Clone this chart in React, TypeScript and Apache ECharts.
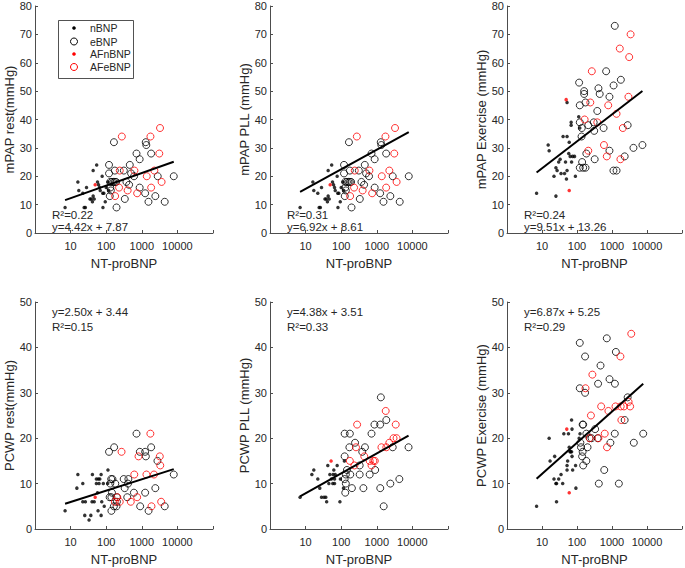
import React, { useEffect, useRef } from 'react';
import * as echarts from 'echarts';

// ---------- text / labels ----------
const yAxisNames = ['mPAP rest(mmHg)', 'mPAP PLL (mmHg)', 'mPAP Exercise (mmHg)', 'PCWP rest(mmHg)', 'PCWP PLL (mmHg)', 'PCWP Exercise (mmHg)'];
const xAxisName = 'NT-proBNP';
const xTickLabels = ['10', '100', '1000', '10000'];
const legendNames = ['nBNP', 'eBNP', 'AFnBNP', 'AFeBNP'];

// ---------- regression coefficients (from the figure) ----------
const slopes = [4.42, 6.92, 9.51, 2.50, 4.38, 6.87];
const intercepts = [7.87, 8.61, 13.26, 3.44, 3.51, 5.25];
const rSquared = [0.22, 0.31, 0.24, 0.15, 0.33, 0.29];

// ---------- mPAP rest ----------
const mpapRestN = [[7,9],[16,18],[17,15],[22,14],[24,9],[26,9],[28,16],[35,12],[38,12],[41,11],[43,13],[43,22],[46,12],[54,24],[57,18],[61,17],[65,16],[68,15],[77,20],[80,14],[81,9],[86,14],[94,11],[100,16],[112,18],[118,15]];
const mpapRestE = [[120,24],[120,21],[165,32],[175,22],[130,18],[145,18],[160,18],[175,18],[190,18],[130,16],[135,15],[126,13],[195,9],[313,22],[333,12],[370,18],[440,17],[460,24],[500,21],[605,20],[710,28],[870,26],[870,16],[1240,14],[1290,32],[1340,31],[1540,11],[1830,28],[2400,13],[2800,20],[4400,11],[7900,20]];
const mpapRestAFn = [[49,17]];
const mpapRestAFe = [[275,34],[1750,34],[3250,37],[3100,28],[240,22],[620,22],[2250,22],[1380,20],[3600,18],[230,16],[400,15],[1830,16],[740,14],[178,13]];

// ---------- mPAP PLL ----------
const mpapPllN = [[7,9],[16,18],[17,15],[22,14],[24,9],[26,9],[28,16],[35,12],[38,12],[41,11],[43,13],[43,22],[46,12],[54,24],[57,18],[61,17],[65,16],[68,15],[77,20],[80,14],[81,9],[86,14],[94,11],[100,16],[112,18],[118,15]];
const mpapPllE = [[120,24],[120,21],[165,32],[175,22],[130,18],[145,18],[160,18],[175,18],[190,18],[130,16],[135,15],[126,13],[195,9],[313,22],[333,12],[370,18],[440,17],[460,24],[500,21],[605,20],[710,28],[870,26],[870,16],[1240,14],[1290,32],[1340,31],[1540,11],[1830,28],[2400,13],[2800,20],[4400,11],[7900,20]];
const mpapPllAFn = [[49,17]];
const mpapPllAFe = [[275,34],[1750,34],[3250,37],[3100,28],[240,22],[620,22],[2250,22],[1380,20],[3600,18],[230,16],[400,15],[1830,16],[740,14],[178,13]];

// ---------- mPAP Exercise ----------
const mpapExN = [[7,14],[15,31],[16,29],[22,20],[25,13],[25,23],[27,22],[30,25],[33,26],[35,21],[40,34],[52,34],[44,21],[47,25],[52,46],[50,19],[52,22],[58,28],[60,32],[64,27],[68,39],[68,38],[70,25],[75,27],[85,27],[90,20],[112,41],[120,37]];
const mpapExE = [[1200,73],[680,57],[115,53],[160,50],[160,49],[410,51],[445,49],[1110,52],[1790,54],[845,48],[120,45],[175,46],[380,43],[120,39],[137,37],[210,38],[300,39],[310,36],[575,37],[135,34],[2800,38],[185,28],[320,26],[845,29],[2300,27],[4100,30],[7400,31],[120,23],[150,23],[175,23],[140,25],[1100,22],[1350,22]];
const mpapExAFn = [[49,47],[60,15]];
const mpapExAFe = [[3400,70],[1670,65],[3100,62],[265,57],[240,46],[780,45],[165,40],[380,39],[1350,42],[2950,48],[2040,37],[210,29],[590,31],[710,27],[1740,26]];

// ---------- PCWP rest ----------
const pcwpRestN = [[7,4],[16,12],[15,9],[22,10],[22,6],[26,6],[25,3],[33,2],[37,3],[40,6],[46,6],[41,12],[53,11],[60,11],[66,11],[53,10],[63,10],[57,8],[59,4],[72,12],[72,3],[83,10],[75,6],[88,5],[112,13],[110,10]];
const pcwpRestE = [[710,21],[120,17],[167,18],[880,17],[1240,17],[1300,16],[1830,18],[2750,15],[7900,12],[138,11],[150,11],[310,11],[420,11],[410,10],[130,10],[180,10],[330,9],[600,8],[1240,8],[2400,9],[125,7],[140,7],[200,7],[390,7],[164,5],[195,5],[140,4],[900,5],[1550,4],[4400,5],[200,6],[145,8]];
const pcwpRestAFn = [[49,7]];
const pcwpRestAFe = [[1740,21],[270,17],[810,16],[3200,16],[3300,14],[615,12],[1350,12],[2200,12],[740,7],[175,6],[240,6],[490,6],[205,7],[1870,5],[3500,6]];

// ---------- PCWP PLL ----------
const pcwpPllN = [[7,7],[17,13],[15,12],[22,11],[25,9],[28,7],[33,7],[37,7],[39,6],[42,14],[48,12],[59,12],[68,12],[53,11],[65,11],[45,10],[58,10],[65,10],[77,14],[62,13],[92,6],[95,11],[123,15],[116,9]];
const pcwpPllE = [[1300,29],[1850,24],[860,23],[1240,23],[125,21],[175,21],[710,21],[245,19],[170,18],[465,18],[390,17],[2800,18],[7800,18],[125,16],[145,13],[135,12],[180,12],[330,12],[630,12],[330,14],[900,13],[125,11],[135,10],[200,9],[420,9],[1250,9],[2400,10],[4300,11],[130,8],[1560,5]];
const pcwpPllAFn = [[52,15]];
const pcwpPllAFe = [[1780,26],[280,23],[3400,23],[260,18],[1350,18],[1850,18],[2250,19],[2950,20],[3600,20],[175,15],[445,16],[630,15],[800,15],[880,15],[710,14],[235,14]];

// ---------- PCWP Exercise ----------
const pcwpExN = [[7,5],[16,20],[17,15],[22,11],[25,10],[26,10],[26,6],[23,16],[30,11],[35,12],[39,10],[42,21],[57,21],[72,22],[52,14],[52,13],[54,15],[63,17],[66,17],[60,18],[70,24],[70,17],[72,16],[75,13],[91,14],[93,9],[115,20],[122,21]];
const pcwpExE = [[120,41],[710,42],[170,38],[1290,39],[470,36],[850,33],[1210,32],[400,32],[120,31],[170,30],[2800,29],[145,23],[150,23],[2300,24],[185,21],[330,22],[230,20],[260,20],[390,20],[1200,21],[7800,21],[4200,19],[900,19],[125,19],[130,18],[200,18],[140,16],[145,17],[150,14],[185,15],[600,13],[420,10],[1570,10]];
const pcwpExAFn = [[60,8],[51,22]];
const pcwpExAFe = [[3550,43],[1740,38],[275,34],[175,31],[490,27],[790,26],[1260,27],[1770,27],[2200,27],[2980,28],[3300,27],[1850,24],[250,25],[620,21],[410,20],[230,20],[720,18]];

const panelsN = [mpapRestN, mpapPllN, mpapExN, pcwpRestN, pcwpPllN, pcwpExN];
const panelsE = [mpapRestE, mpapPllE, mpapExE, pcwpRestE, pcwpPllE, pcwpExE];
const panelsAFn = [mpapRestAFn, mpapPllAFn, mpapExAFn, pcwpRestAFn, pcwpPllAFn, pcwpExAFn];
const panelsAFe = [mpapRestAFe, mpapPllAFe, mpapExAFe, pcwpRestAFe, pcwpPllAFe, pcwpExAFe];
const yMaxes = [80, 80, 80, 50, 50, 50];

const FONT = '"Liberation Sans", Arial, Helvetica, sans-serif';
const TXT = '#262626';
const AX = '#4d4d4d';

export default function App() {
  const ref = useRef<HTMLDivElement>(null);
  useEffect(() => {
    if (!ref.current) return;
    const chart = echarts.init(ref.current, undefined, { renderer: 'svg' });
    const lefts = [35, 270, 507];
    const tops = [6, 302];
    const W = 178;
    const H = 227;

    const grids: any[] = [];
    const xAxes: any[] = [];
    const yAxes: any[] = [];
    const series: any[] = [];
    const graphics: any[] = [];

    for (let i = 0; i < 6; i++) {
      const col = i % 3;
      const row = Math.floor(i / 3);
      const left = lefts[col];
      const top = tops[row];
      grids.push({ left, top, width: W, height: H });
      xAxes.push({
        type: 'log', logBase: 10, min: 1, max: 100000, gridIndex: i,
        name: xAxisName, nameLocation: 'middle', nameGap: 24,
        nameTextStyle: { fontSize: 13, color: TXT, fontFamily: FONT },
        axisLine: { show: true, lineStyle: { color: AX, width: 1 } },
        axisTick: { show: true, inside: true, length: 3, lineStyle: { color: AX } },
        axisLabel: {
          fontSize: 11, color: TXT, fontFamily: FONT, margin: 7,
          formatter: (v: number) => { const s = String(Math.round(v)); return xTickLabels.includes(s) ? s : ''; },
        },
        splitLine: { show: false },
      });
      yAxes.push({
        type: 'value', min: 0, max: yMaxes[i], interval: 10, gridIndex: i,
        name: yAxisNames[i], nameLocation: 'middle', nameGap: 19,
        nameTextStyle: { fontSize: 13, color: TXT, fontFamily: FONT },
        axisLine: { show: true, lineStyle: { color: AX, width: 1 } },
        axisTick: { show: true, inside: true, length: 3, lineStyle: { color: AX } },
        axisLabel: { fontSize: 11, color: TXT, fontFamily: FONT, margin: 3 },
        splitLine: { show: false },
      });
      const common = { xAxisIndex: i, yAxisIndex: i, silent: true, symbol: 'circle' };
      series.push({ ...common, type: 'scatter', name: legendNames[0], data: panelsN[i], symbolSize: 3.5, itemStyle: { color: '#000' } });
      series.push({ ...common, type: 'scatter', name: legendNames[1], data: panelsE[i], symbolSize: 7, itemStyle: { color: 'rgba(0,0,0,0)', borderColor: '#000', borderWidth: 1 } });
      series.push({ ...common, type: 'scatter', name: legendNames[2], data: panelsAFn[i], symbolSize: 3.5, itemStyle: { color: '#ff0000' } });
      series.push({ ...common, type: 'scatter', name: legendNames[3], data: panelsAFe[i], symbolSize: 7, itemStyle: { color: 'rgba(0,0,0,0)', borderColor: '#ff0000', borderWidth: 1 } });

      const allX = [...panelsN[i], ...panelsE[i], ...panelsAFn[i], ...panelsAFe[i]].map((p) => p[0]);
      const xMin = Math.min(...allX);
      const xMax = Math.max(...allX);
      const f = (x: number) => slopes[i] * Math.log10(x) + intercepts[i];
      series.push({
        type: 'line', xAxisIndex: i, yAxisIndex: i, silent: true, symbol: 'none', z: 5,
        data: [[xMin, f(xMin)], [xMax, f(xMax)]],
        lineStyle: { color: '#000', width: 2 },
      });

      const eq = `y=${slopes[i].toFixed(2)}x + ${intercepts[i].toFixed(2)}`;
      const r2 = `R\u00B2=${rSquared[i].toFixed(2)}`;
      const tx = left + 17;
      const ts = { fontSize: 11.5, fill: TXT, fontFamily: FONT, verticalAlign: 'middle' };
      if (row === 0) {
        graphics.push({ type: 'text', x: tx, y: 214.5, style: { ...ts, text: r2 } });
        graphics.push({ type: 'text', x: tx, y: 226.5, style: { ...ts, text: eq } });
      } else {
        graphics.push({ type: 'text', x: tx, y: 312, style: { ...ts, text: eq } });
        graphics.push({ type: 'text', x: tx, y: 327, style: { ...ts, text: r2 } });
      }
    }

    // legend (drawn with graphic elements)
    graphics.push({ type: 'rect', shape: { x: 58.5, y: 20.5, width: 75, height: 58 }, style: { fill: '#fff', stroke: '#262626', lineWidth: 0.8 }, z: 10 });
    const legY = [28, 41.5, 54, 67];
    const legStyles = [
      { r: 1.8, fill: '#000', stroke: 'none' },
      { r: 3.5, fill: 'none', stroke: '#000' },
      { r: 1.8, fill: '#ff0000', stroke: 'none' },
      { r: 3.5, fill: 'none', stroke: '#ff0000' },
    ];
    legendNames.forEach((n, k) => {
      const s = legStyles[k];
      graphics.push({ type: 'circle', shape: { cx: 74, cy: legY[k], r: s.r }, style: { fill: s.fill, stroke: s.stroke, lineWidth: 1 }, z: 11 });
      graphics.push({ type: 'text', x: 90, y: legY[k], style: { text: n, fontSize: 10.5, fill: TXT, fontFamily: FONT, verticalAlign: 'middle' }, z: 11 });
    });

    chart.setOption({
      animation: false,
      backgroundColor: '#fff',
      textStyle: { fontFamily: FONT },
      grid: grids,
      xAxis: xAxes,
      yAxis: yAxes,
      series,
      graphic: graphics,
    });
    return () => chart.dispose();
  }, []);
  return <div ref={ref} style={{ position: 'absolute', left: 0, top: 0, width: 685, height: 568 }} />;
}
